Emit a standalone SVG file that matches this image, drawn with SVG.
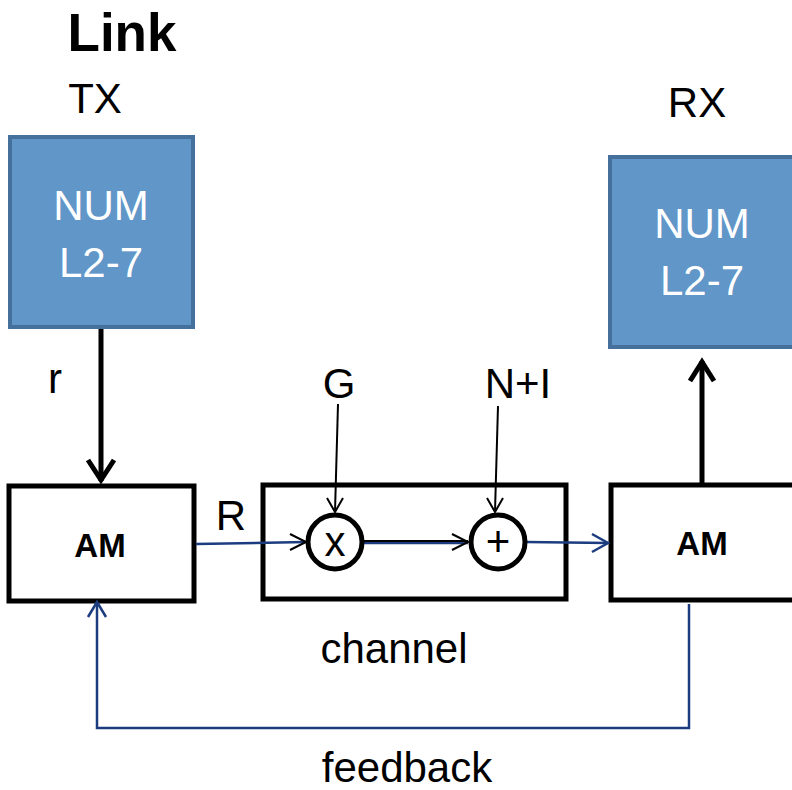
<svg xmlns="http://www.w3.org/2000/svg" width="792" height="790" viewBox="0 0 792 790">
<style>
.t{font-family:"Liberation Sans",Arial,sans-serif;font-size:42px;fill:#000;text-anchor:middle}
.w{fill:#fff}
.b{font-weight:bold}
.num{fill:#6096C8;stroke:#46709C;stroke-width:4}
.box{fill:#fff;stroke:#000;stroke-width:5}
.circ{fill:#fff;stroke:#000;stroke-width:5}
.thick{stroke:#000;stroke-width:5;fill:none}
.thin{stroke:#000;stroke-width:2;fill:none}
.blue{stroke:#1C3C80;stroke-width:2.5;fill:none}
</style>
<rect width="792" height="790" fill="#fff"/>
<text class="t b" x="122" y="51" style="font-size:53px">Link</text>
<text class="t" x="95" y="113">TX</text>
<text class="t" x="697" y="117">RX</text>

<g id="tx-num">
<rect class="num" x="10" y="137" width="183" height="190"/>
<text class="t w" x="101" y="220">NUM</text>
<text class="t w" x="101" y="277">L2-7</text>
</g>
<g id="rx-num">
<rect class="num" x="610" y="157" width="190" height="190"/>
<text class="t w" x="702" y="238">NUM</text>
<text class="t w" x="702" y="295">L2-7</text>
</g>
<g id="tx-am">
<rect class="box" x="9" y="486" width="185" height="115"/>
<text class="t b" x="100" y="557" style="font-size:33px">AM</text>
</g>
<g id="channel">
<rect class="box" x="263" y="485" width="303" height="114"/>
</g>
<g id="rx-am">
<rect class="box" x="611" y="485" width="190" height="115"/>
<text class="t b" x="702" y="555" style="font-size:33px">AM</text>
</g>

<g id="connectors">
<path class="thick" d="M101 329 V481"/>
<path class="thick" d="M88 460 L101 480 L114 460"/>
<path class="thick" d="M702 483 V361"/>
<path class="thick" d="M690 381 L702 362 L714 381"/>
<path class="blue" d="M196 544 L306 542"/>
<path class="thin" d="M290 534 L306 542 L290 550"/>
<path class="thin" d="M338 404 L335 512"/>
<path class="thin" d="M327 498 L335 512 L343 498"/>
<path class="thin" d="M498 406 L495 512"/>
<path class="thin" d="M487 498 L495 512 L503 498"/>
<path class="blue" d="M363 543 H468"/>
<path class="thin" d="M363 541 H468"/>
<path class="thin" d="M452 534 L468 542 L452 550"/>
<path class="blue" d="M526 542 L608 543"/>
<path class="blue" d="M592 534 L608 543 L592 552"/>
<path class="blue" d="M689 604 V728 H97 V604"/>
<path class="blue" d="M88 617 L97 602 L106 617"/>
</g>

<g id="mult">
<circle class="circ" cx="335" cy="542" r="27"/>
<text class="t" x="335" y="556">x</text>
</g>
<g id="add">
<circle class="circ" cx="498" cy="542" r="27"/>
<text class="t" x="498" y="556">+</text>
</g>

<text class="t" x="55" y="393">r</text>
<text class="t" x="231" y="530">R</text>
<text class="t" x="339" y="398">G</text>
<text class="t" x="518" y="398">N+I</text>
<text class="t" x="394" y="663">channel</text>
<text class="t" x="407" y="782">feedback</text>
</svg>
